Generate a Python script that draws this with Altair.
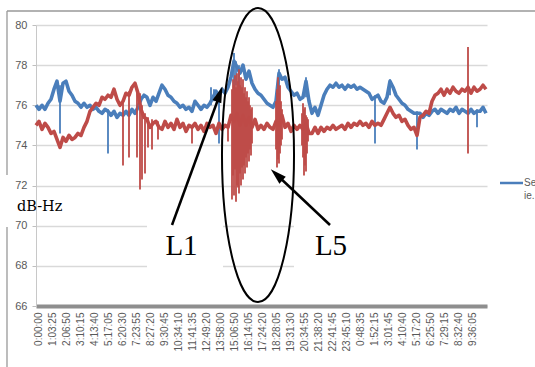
import json
import altair as alt
import pandas as pd

# ---------------- data ----------------
tick_labels = ["0:00:00", "1:03:25", "2:06:50", "3:10:15", "4:13:40", "5:17:05",
               "6:20:30", "7:23:55", "8:27:20", "9:30:45", "10:34:10", "11:41:35",
               "12:49:20", "13:58:00", "15:06:50", "16:14:05", "17:24:20", "18:28:05",
               "19:31:30", "20:34:55", "21:38:20", "22:41:45", "23:45:10", "0:48:35",
               "1:52:15", "3:01:45", "4:10:40", "5:17:20", "6:25:50", "7:29:15",
               "8:32:40", "9:36:05"]
y_ticks = [66, 68, 70, 72, 74, 76, 78, 80]

# base level, one reading every 3 samples (sample 0 .. 450), dB-Hz
blue = [76.0, 75.8, 76.0, 75.8, 76.1, 76.3, 76.8, 77.2, 76.2, 77.1,
        77.2, 76.7, 76.5, 76.2, 76.1, 75.9, 76.1, 75.9, 76.0, 75.8,
        75.9, 75.7, 75.6, 75.8, 75.7, 75.5, 75.7, 75.4, 75.6, 75.5,
        75.7, 75.5, 75.8, 75.6, 75.9, 76.3, 76.5, 76.4, 76.0, 76.4,
        76.2, 76.6, 77.0, 76.8, 76.5, 76.4, 76.2, 76.1, 75.9, 76.0,
        75.8, 75.9, 75.7, 76.2, 76.0, 75.8, 76.0, 75.9, 76.1, 76.4,
        76.7, 76.5, 76.8, 76.6, 76.9, 77.4, 78.2, 77.9, 77.6, 78.0,
        77.3, 77.7, 77.1, 76.8, 76.6, 76.5, 76.3, 76.1, 76.0, 75.9,
        76.2, 77.6, 77.3, 77.4, 76.9, 76.7, 76.5, 76.6, 76.3, 76.4,
        77.2, 76.2, 75.6, 75.9, 75.5, 76.0, 76.5, 76.8, 77.0, 76.9,
        77.1, 76.9, 77.0, 76.8, 77.0, 76.9, 77.0, 76.8, 76.9, 76.8,
        76.7, 76.6, 76.3, 76.4, 76.5, 76.2, 76.1, 76.4, 77.2, 76.9,
        76.5, 76.3, 76.1, 76.0, 75.8, 75.7, 75.6, 75.6, 75.6, 75.4,
        75.6, 75.5, 75.7, 75.8, 75.6, 75.8, 75.7, 75.6, 75.8, 75.7,
        75.9, 75.6, 75.8, 75.7, 75.6, 75.8, 75.6, 75.7, 75.7, 75.9,
        75.6]
red = [75.0, 75.2, 74.8, 75.1, 74.9, 74.6, 74.7, 74.3, 73.9, 74.4,
       74.2, 74.5, 74.3, 74.4, 74.6, 74.5, 74.9, 75.2, 75.7, 75.9,
       76.1, 76.0, 76.4, 76.3, 76.5, 76.4, 76.8, 76.3, 76.0, 76.2,
       76.6, 76.5, 76.9, 77.1, 76.6, 75.8, 75.4, 75.3, 74.9, 75.1,
       75.2, 74.9, 74.8, 75.2, 74.9, 75.1, 74.8, 75.3, 74.9, 75.1,
       74.7, 75.0, 74.9, 75.1, 74.8, 75.0, 74.7, 75.1, 74.9, 75.0,
       74.6, 75.1, 74.8, 75.0, 74.9, 75.5, 75.2, 75.6, 75.0, 75.5,
       75.0, 75.4, 74.9, 75.3, 74.8, 75.0, 74.8, 75.1, 74.9, 74.8,
       75.2, 75.0, 75.5, 74.9, 75.1, 74.7, 75.0, 74.8, 75.0, 74.8,
       75.1, 74.6, 74.6, 74.9, 74.6, 74.9, 74.7, 74.9, 74.8, 75.0,
       74.8, 74.9, 75.0, 74.8, 75.1, 74.9, 75.1, 75.0, 75.2, 75.0,
       75.1, 74.9, 75.2, 75.0, 75.1, 75.0, 75.3, 75.6, 75.9, 75.6,
       75.4, 75.5, 75.2, 75.3, 75.0, 74.8, 74.9, 74.5, 75.4, 75.5,
       75.7, 75.6, 76.2, 76.5, 76.6, 76.8, 76.5, 76.8, 76.6, 76.9,
       76.7, 76.6, 76.8, 76.7, 76.9, 76.6, 76.9, 76.7, 76.8, 77.0,
       76.8]

# thin vertical spikes: sample, low, high
blue_spike_s = [24, 72, 183, 339, 381, 441, 198, 200, 203, 243, 270, 354, 175, 178]
blue_spike_lo = [74.6, 73.6, 74.1, 74.1, 73.8, 74.9, 76.8, 77.0, 76.9, 76.5, 76.4, 76.5, 76.0, 76.2]
blue_spike_hi = [77.0, 75.8, 76.6, 76.5, 75.7, 75.8, 78.6, 78.2, 78.0, 77.8, 77.4, 77.3, 76.9, 76.8]

red_spike_s = [87, 93, 101, 104, 106, 109, 112, 116, 122, 156, 192,
               196, 197, 198, 199, 200, 201, 202, 203, 204, 205, 206, 207, 208,
               209, 210, 211, 212, 213, 214, 215, 216,
               240, 241, 242, 243, 244, 245, 246,
               266, 267, 268, 269, 270, 271, 272,
               432]
red_spike_lo = [73.0, 73.4, 73.4, 71.8, 72.3, 72.6, 73.9, 73.8, 74.3, 74.1, 74.2,
                71.3, 72.5, 71.5, 72.8, 71.2, 72.0, 71.9, 71.6, 72.6, 72.0, 72.9, 72.3, 73.0,
                72.6, 73.4, 72.9, 73.6, 73.2, 73.8, 73.5, 74.1,
                73.8, 72.9, 73.3, 73.1, 73.6, 74.0, 74.3,
                74.0, 73.4, 72.5, 73.0, 72.7, 73.6, 74.2,
                73.6]
red_spike_hi = [76.3, 76.7, 76.8, 76.6, 76.0, 75.6, 75.4, 75.3, 75.2, 75.0, 75.0,
                76.8, 77.3, 77.0, 77.5, 76.9, 77.6, 77.2, 77.8, 77.0, 77.4, 76.9, 77.3, 76.6,
                76.9, 76.4, 76.7, 76.2, 76.4, 76.0, 75.8, 75.9,
                76.2, 76.8, 77.4, 76.6, 77.0, 76.2, 75.8,
                75.6, 76.1, 75.8, 75.9, 75.5, 75.4, 75.3,
                78.9]

series_names = ["Series1", "Series2"]
colors = ["#4a7ebb", "#be4b48"]

# ---------------- build tables ----------------
n_b, n_r = len(blue), len(red)
base_b = pd.DataFrame({"s": [3 * i for i in range(n_b)], "v": blue})
base_r = pd.DataFrame({"s": [3 * i for i in range(n_r)], "v": red})
spk_b = pd.DataFrame({"s": blue_spike_s, "lo": blue_spike_lo, "hi": blue_spike_hi})
spk_r = pd.DataFrame({"s": red_spike_s, "lo": red_spike_lo, "hi": red_spike_hi})
tick_pos = [2 + 14 * k for k in range(len(tick_labels))]
one = pd.DataFrame({"a": [0]})

W, H = 451, 281
xs = alt.Scale(domain=[0, 451], nice=False, zero=False)
ys = alt.Scale(domain=[66, 80], nice=False, zero=False)

label_expr = "{}[round((datum.value - 2) / 14)]".format(json.dumps(tick_labels))

x_axis = alt.Axis(values=tick_pos, labelExpr=label_expr, labelAngle=270,
                  labelAlign="right", labelBaseline="middle",
                  labelFont="Liberation Sans", labelFontSize=10, labelColor="#595959",
                  labelPadding=6, labelOverlap=False, labelFlush=False, labelBound=False,
                  labelSeparation=0,
                  ticks=False, grid=False, domainColor="#8e8e8e", domainWidth=4,
                  title=None)
y_axis = alt.Axis(values=y_ticks, format="d", labelFont="Liberation Sans",
                  labelFontSize=11, labelColor="#595959", labelPadding=5,
                  tickSize=4, tickColor="#bfbfbf", domainColor="#c8c8c8",
                  grid=True, gridColor="#d9d9d9", gridWidth=1.5, title=None)

X = lambda f: alt.X(f, scale=xs, axis=x_axis)
Y = lambda f: alt.Y(f, scale=ys, axis=y_axis)

blue_line = alt.Chart(base_b).mark_line(color=colors[0], strokeWidth=3.6, strokeJoin="round").encode(
    x=X("s:Q"), y=Y("v:Q"), order=alt.Order("s:Q"))
blue_spk = alt.Chart(spk_b).mark_rule(color=colors[0], strokeWidth=1.8).encode(
    x=X("s:Q"), y=Y("lo:Q"), y2="hi:Q")
red_line = alt.Chart(base_r).mark_line(color=colors[1], strokeWidth=3.6, strokeJoin="round").encode(
    x=X("s:Q"), y=Y("v:Q"), order=alt.Order("s:Q"))
red_spk = alt.Chart(spk_r).mark_rule(color=colors[1], strokeWidth=1.8).encode(
    x=X("s:Q"), y=Y("lo:Q"), y2="hi:Q")

# white masks where the annotation boxes hide the lower gridlines
mask1 = alt.Chart(one).mark_rect(color="white").encode(
    x=alt.value(111), x2=alt.value(187), y=alt.value(190), y2=alt.value(276))
mask2 = alt.Chart(one).mark_rect(color="white").encode(
    x=alt.value(258), x2=alt.value(452), y=alt.value(190), y2=alt.value(276))

# outer chart frame (top and left edges)
frame_top = alt.Chart(one).mark_rule(color="#999999", strokeWidth=1.3).encode(
    x=alt.value(-29), x2=alt.value(500), y=alt.value(-14), y2=alt.value(-14))
frame_left1 = alt.Chart(one).mark_rule(color="#999999", strokeWidth=1.3).encode(
    x=alt.value(-29), x2=alt.value(-29), y=alt.value(-14), y2=alt.value(150))
frame_left2 = alt.Chart(one).mark_rule(color="#999999", strokeWidth=1.3).encode(
    x=alt.value(-29), x2=alt.value(-29), y=alt.value(202), y2=alt.value(345))

# truncated legend
leg_line = alt.Chart(one).mark_rule(color=colors[0], strokeWidth=2.5).encode(
    x=alt.value(464), x2=alt.value(487), y=alt.value(158), y2=alt.value(158))
leg_t1 = alt.Chart(one).mark_text(text="Se", align="left", baseline="middle",
                                  font="Liberation Sans", fontSize=10, color="#595959").encode(
    x=alt.value(488), y=alt.value(158))
leg_t2 = alt.Chart(one).mark_text(text="ie.", align="left", baseline="middle",
                                  font="Liberation Sans", fontSize=10, color="#595959").encode(
    x=alt.value(488), y=alt.value(171))

# annotations
ELLIPSE = ("M0,-1 C0.1353,-1 0.245,-0.5523 0.245,0 C0.245,0.5523 0.1353,1 0,1 "
           "C-0.1353,1 -0.245,0.5523 -0.245,0 C-0.245,-0.5523 -0.1353,-1 0,-1 Z")
HEAD = "M0,-1 L0.55,0.9 L-0.55,0.9 Z"

ellipse = alt.Chart(one).mark_point(shape=ELLIPSE, size=86436, filled=False,
                                    stroke="black", strokeWidth=2, opacity=1).encode(
    x=alt.value(222), y=alt.value(130))
arrow1 = alt.Chart(one).mark_rule(color="black", strokeWidth=2.5).encode(
    x=alt.value(136), x2=alt.value(184), y=alt.value(200), y2=alt.value(69))
head1 = alt.Chart(one).mark_point(shape=HEAD, size=289, filled=True, color="black",
                                  opacity=1, angle=20).encode(
    x=alt.value(183.5), y=alt.value(69.5))
arrow2 = alt.Chart(one).mark_rule(color="black", strokeWidth=2.5).encode(
    x=alt.value(294), x2=alt.value(241), y=alt.value(200), y2=alt.value(150))
head2 = alt.Chart(one).mark_point(shape=HEAD, size=289, filled=True, color="black",
                                  opacity=1, angle=313).encode(
    x=alt.value(241), y=alt.value(150))

txt_l1 = alt.Chart(one).mark_text(text="L1", font="Liberation Serif", fontSize=29,
                                  align="center", baseline="alphabetic", color="black").encode(
    x=alt.value(145.5), y=alt.value(230))
txt_l5 = alt.Chart(one).mark_text(text="L5", font="Liberation Serif", fontSize=29,
                                  align="center", baseline="alphabetic", color="black").encode(
    x=alt.value(295), y=alt.value(230))
txt_db = alt.Chart(one).mark_text(text="dB-Hz", font="DejaVu Serif", fontSize=14.5,
                                  align="left", baseline="alphabetic", color="black").encode(
    x=alt.value(-19), y=alt.value(186))

chart = alt.layer(
    blue_line, mask1, mask2, blue_spk, red_line, red_spk,
    frame_top, frame_left1, frame_left2,
    leg_line, leg_t1, leg_t2,
    ellipse, arrow1, head1, arrow2, head2,
    txt_l1, txt_l5, txt_db,
).properties(
    width=W, height=H,
    autosize=alt.AutoSizeParams(type="none"),
    padding={"left": 36, "top": 25, "right": 48, "bottom": 61},
    background="white",
).configure_view(stroke=None).configure_axisX(labelOverlap=False)

chart.save("out.html", embed_options={"renderer": "svg", "actions": False})
